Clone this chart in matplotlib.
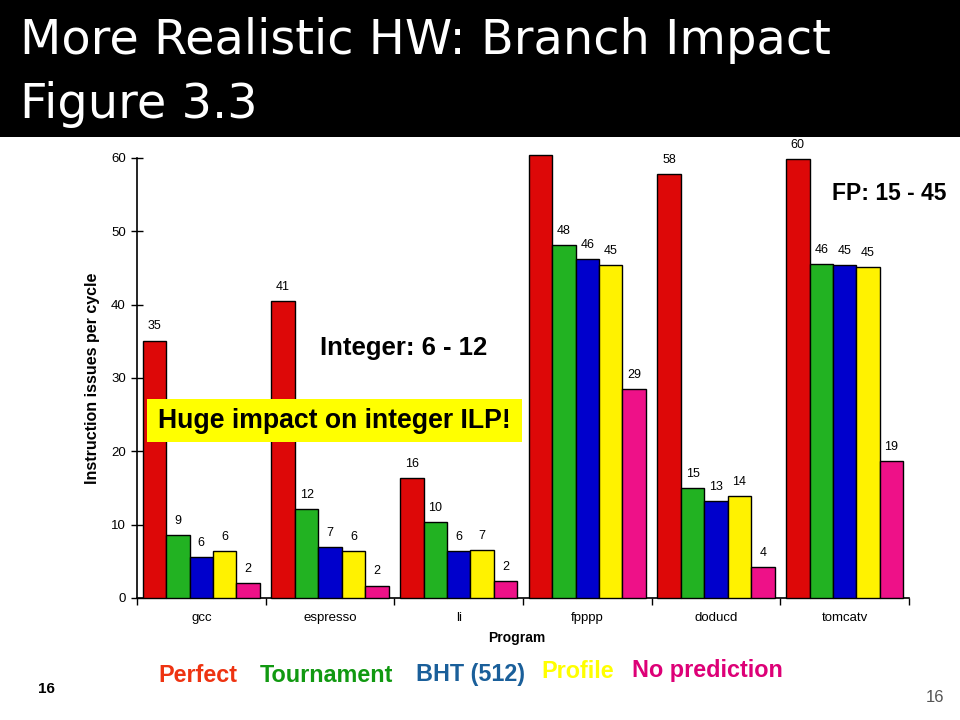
import matplotlib
matplotlib.use("Agg")
import matplotlib.pyplot as plt
from matplotlib.patches import Rectangle
import numpy as np

programs = ["gcc", "espresso", "li", "fpppp", "doducd", "tomcatv"]
series_names = ["Perfect", "Tournament", "BHT (512)", "Profile", "No prediction"]
perfect = [35.1, 40.5, 16.3, 60.4, 57.8, 59.8]
tournament = [8.6, 12.1, 10.3, 48.1, 15.0, 45.5]
bht = [5.6, 6.9, 6.4, 46.2, 13.2, 45.4]
profile = [6.4, 6.4, 6.5, 45.4, 13.9, 45.1]
no_pred = [2.0, 1.7, 2.3, 28.5, 4.2, 18.7]
labels_perfect = [35, 41, 16, 61, 58, 60]
labels_tournament = [9, 12, 10, 48, 15, 46]
labels_bht = [6, 7, 6, 46, 13, 45]
labels_profile = [6, 6, 7, 45, 14, 45]
labels_no_pred = [2, 2, 2, 29, 4, 19]
yticks = [0, 10, 20, 30, 40, 50, 60]

series = [perfect, tournament, bht, profile, no_pred]
series_labels = [labels_perfect, labels_tournament, labels_bht, labels_profile, labels_no_pred]
bar_colors = ["#dd0808", "#22b222", "#0000cc", "#fff200", "#ee1188"]
legend_colors = ["#ee3311", "#119911", "#1a5f9a", "#ffff00", "#dd0077"]

fam = ["Liberation Sans", "DejaVu Sans"]
plt.rcParams["font.family"] = fam

fig = plt.figure(figsize=(9.6, 7.2), dpi=100)
fig.patch.set_facecolor("white")

# title bar
fig.patches.append(Rectangle((0, 1 - 137 / 720), 1, 137 / 720, transform=fig.transFigure,
                             facecolor="black", edgecolor="none", zorder=0))
fig.text(20 / 960, 1 - 41 / 720, "More Realistic HW: Branch Impact", color="white",
         fontsize=34.5, va="center", ha="left", family=["DejaVu Sans"])
fig.text(20 / 960, 1 - 104 / 720, "Figure 3.3", color="white",
         fontsize=34.5, va="center", ha="left", family=["DejaVu Sans"])

ax = fig.add_axes([137 / 960, 1 - 598 / 720, 772 / 960, 440 / 720])
x = np.arange(len(programs))
w = 0.182
for j, (vals, labs, col) in enumerate(zip(series, series_labels, bar_colors)):
    pos = x + (j - 2) * w
    ax.bar(pos, vals, width=w, color=col, edgecolor="black", linewidth=1.0,
           clip_on=False, zorder=3)
    for p, v, l in zip(pos, vals, labs):
        ax.annotate(str(l), (p, v), xytext=(0, 6), textcoords="offset points",
                    ha="center", va="bottom", fontsize=9, clip_on=False)

ax.set_xlim(-0.5, 5.5)
ax.set_ylim(0, 60)
ax.set_yticks(yticks)
ax.tick_params(axis="y", direction="inout", length=8, width=1, labelsize=9.5, pad=4)
ax.set_xticks(np.arange(-0.5, 6, 1))
ax.set_xticklabels([])
ax.set_xticks(x, minor=True)
ax.set_xticklabels(programs, minor=True, fontsize=9.5)
ax.tick_params(axis="x", which="major", direction="out", length=5, width=1)
ax.tick_params(axis="x", which="minor", length=0, pad=10)
for s in ["top", "right"]:
    ax.spines[s].set_visible(False)
for s in ["left", "bottom"]:
    ax.spines[s].set_linewidth(1.2)

fig.text(92 / 960, 1 - 378 / 720, "Instruction issues per cycle", rotation=90,
         fontsize=11.5, fontweight="bold", ha="center", va="center")
fig.text(517 / 960, 1 - 638 / 720, "Program", fontsize=10, fontweight="bold",
         ha="center", va="center")

# annotations
fig.text(320 / 960, 1 - 348 / 720, "Integer: 6 - 12", fontsize=18.5, fontweight="bold",
         ha="left", va="center")
fig.text(832 / 960, 1 - 194 / 720, "FP: 15 - 45", fontsize=16.5, fontweight="bold",
         ha="left", va="center")
fig.patches.append(Rectangle((147 / 960, 1 - 442 / 720), 375 / 960, 43 / 720,
                             transform=fig.transFigure, facecolor="#ffff00",
                             edgecolor="none", zorder=5))
fig.text(334 / 960, 1 - 421 / 720, "Huge impact on integer ILP!", fontsize=19.2,
         fontweight="bold", ha="center", va="center", zorder=6)

# legend text row
legend_x = [158, 260, 416, 541, 632]
legend_y = [675, 675, 675, 672, 671]
for name, col, lx, ly in zip(series_names, legend_colors, legend_x, legend_y):
    fig.text(lx / 960, 1 - ly / 720, name, color=col, fontsize=16.8, fontweight="bold",
             ha="left", va="center")

fig.text(46 / 960, 1 - 689 / 720, "16", fontsize=11, fontweight="bold", ha="center",
         va="center")
fig.text(935 / 960, 1 - 697 / 720, "16", fontsize=12, color="#555555", ha="center",
         va="center")

fig.savefig("out.png", dpi=100)
